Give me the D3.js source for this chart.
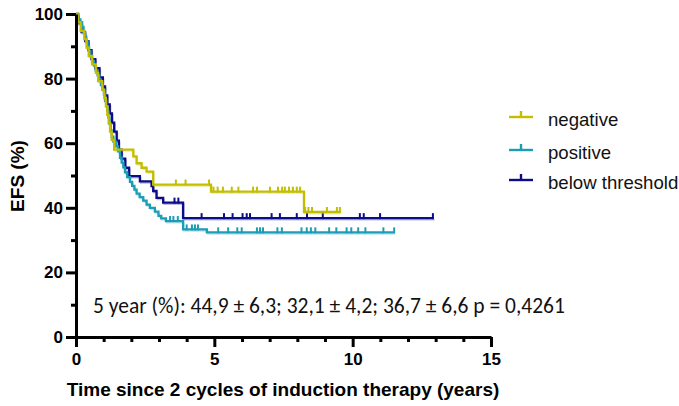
<!DOCTYPE html>
<html><head><meta charset="utf-8">
<script src="https://cdn.jsdelivr.net/npm/d3@7"></script>
<style>body{margin:0;background:#fff}svg{display:block}</style>
</head><body><svg id="c" width="679" height="406"></svg>
<script>
// ---------- data ----------
const xTickValues = [0, 5, 10, 15];
const xMinorTicks = [1,2,3,4,6,7,8,9,11,12,13,14];
const yTickValues = [0, 20, 40, 60, 80, 100];
const yMinorTicks = [10, 30, 50, 70, 90];
const seriesNames = ["negative", "positive", "below threshold"];
const seriesColors = ["#c4be00", "#1c9db6", "#0c0c86"];

const negTimes = [0.06,0.17,0.30,0.38,0.46,0.58,0.72,0.80,0.95,1.02,1.08,1.13,1.18,1.23,1.29,1.38,2.07,2.19,2.37,2.55,2.79,4.88,8.24];
const negSurv  = [97.4,94.8,92.2,89.6,87.0,84.4,81.8,79.2,76.6,74.0,71.4,68.8,66.2,63.6,61.0,58.0,55.9,53.8,52.4,51.2,47.2,45.0,38.7];
const negCensor = [3.61,3.96,4.81,4.97,5.12,5.31,5.63,5.87,6.40,6.54,7.01,7.30,7.45,7.55,7.70,7.84,7.98,8.10,8.28,8.40,8.53,9.07,9.43,9.54];
const negEnd = 9.54;

const posTimes = [0.05,0.10,0.16,0.22,0.27,0.32,0.37,0.42,0.47,0.52,0.58,0.65,0.71,0.78,0.84,0.90,0.96,1.01,1.05,1.09,1.13,1.17,1.21,1.25,1.29,1.35,1.45,1.52,1.59,1.65,1.71,1.77,1.85,1.95,2.03,2.11,2.19,2.30,2.43,2.55,2.67,2.85,2.98,3.08,3.25,3.87,4.73];
const posSurv  = [99.2,98.3,97.5,96.0,94.5,93.0,91.5,90.0,88.5,87.0,85.5,84.0,82.5,81.0,79.5,78.0,76.5,75.0,73.0,71.5,70.0,68.0,66.0,64.0,62.0,60.5,59.0,57.5,55.5,54.0,52.5,51.0,49.5,48.0,46.8,45.6,44.4,43.3,42.2,41.0,40.0,38.8,37.5,36.7,35.9,33.3,32.4];
const posCensor = [3.40,3.52,3.68,4.00,4.19,4.30,4.41,5.14,5.50,5.83,5.99,6.54,6.65,6.76,7.28,7.44,8.15,8.34,8.49,8.65,9.15,9.41,9.78,9.95,10.20,10.46,11.11,11.50];
const posEnd = 11.50;

const belTimes = [0.08,0.20,0.33,0.45,0.56,0.70,0.85,0.97,1.05,1.13,1.22,1.30,1.38,1.47,1.55,1.65,1.78,1.92,2.31,2.73,2.79,2.91,3.15,3.87];
const belSurv  = [97.2,94.4,91.6,88.8,86.0,83.2,80.4,77.6,74.8,72.0,69.2,66.4,63.6,60.8,58.0,55.2,52.4,49.8,48.2,46.7,45.2,43.1,41.6,36.8];
const belCensor = [3.56,3.70,4.54,5.35,5.66,6.02,6.17,6.29,7.07,7.37,7.98,8.35,8.92,10.26,10.40,10.99,12.90];
const belEnd = 12.93;

const xTitle = "Time since 2 cycles of induction therapy (years)";
const yTitle = "EFS (%)";
const annotation = "5 year (%): 44,9 \u00B1 6,3; 32,1 \u00B1 4,2; 36,7 \u00B1 6,6 p = 0,4261";

// ---------- chart ----------
const svg = d3.select("#c");
const x = d3.scaleLinear().domain([0, 15]).range([76, 491]);
const y = d3.scaleLinear().domain([0, 100]).range([337, 14]);

const series = [
  {name: seriesNames[2], color: seriesColors[2], t: belTimes, s: belSurv, c: belCensor, end: belEnd},
  {name: seriesNames[1], color: seriesColors[1], t: posTimes, s: posSurv, c: posCensor, end: posEnd},
  {name: seriesNames[0], color: seriesColors[0], t: negTimes, s: negSurv, c: negCensor, end: negEnd}
];

function survAt(sr, t) {
  const i = d3.bisectRight(sr.t, t);
  return i === 0 ? 100 : sr.s[i - 1];
}

const line = d3.line().x(d => x(d[0])).y(d => y(d[1])).curve(d3.curveStepAfter);

series.forEach(sr => {
  const pts = [[0, 100]];
  sr.t.forEach((t, i) => pts.push([t, sr.s[i]]));
  pts.push([sr.end, sr.s[sr.s.length - 1]]);
  const g = svg.append("g");
  g.append("path").attr("d", line(pts)).attr("fill", "none")
    .attr("stroke", sr.color).attr("stroke-opacity", 0.28).attr("stroke-width", 1.6)
    .attr("transform", "translate(0.8,1.6)");
  g.append("path").attr("d", line(pts)).attr("fill", "none")
    .attr("stroke", sr.color).attr("stroke-width", 2.3);
  g.selectAll("line.cen").data(sr.c).join("line").attr("class", "cen")
    .attr("x1", d => x(d)).attr("x2", d => x(d))
    .attr("y1", d => y(survAt(sr, d)) + 1).attr("y2", d => y(survAt(sr, d)) - 5)
    .attr("stroke", sr.color).attr("stroke-width", 2);
});

// axes
const axisFont = "'Liberation Sans', Arial, sans-serif";
svg.append("g").attr("transform", "translate(76,0)")
  .call(d3.axisLeft(y).tickValues(yTickValues).tickSize(10).tickSizeOuter(0).tickPadding(3));
const yMinor = svg.append("g").attr("transform", "translate(76,0)")
  .call(d3.axisLeft(y).tickValues(yMinorTicks).tickSize(5).tickFormat(""));
yMinor.select(".domain").remove();
svg.append("g").attr("transform", "translate(0,337)")
  .call(d3.axisBottom(x).tickValues(xTickValues).tickSize(10).tickSizeOuter(0).tickPadding(6));
const xMinor = svg.append("g").attr("transform", "translate(0,337)")
  .call(d3.axisBottom(x).tickValues(xMinorTicks).tickSize(5).tickFormat(""));
xMinor.select(".domain").remove();

svg.selectAll(".domain").attr("stroke", "#000").attr("stroke-width", 3);
svg.selectAll(".tick line").attr("stroke", "#000").attr("stroke-width", 3);
svg.selectAll(".tick text").attr("font-family", axisFont).attr("font-weight", "bold")
  .attr("font-size", 17).attr("fill", "#000");

// axis titles
svg.append("text").attr("x", 283).attr("y", 396).attr("text-anchor", "middle")
  .attr("font-family", axisFont).attr("font-weight", "bold").attr("font-size", 19)
  .text(xTitle);
svg.append("text").attr("transform", "translate(24,176) rotate(-90)").attr("text-anchor", "middle")
  .attr("font-family", axisFont).attr("font-weight", "bold").attr("font-size", 19)
  .text(yTitle);

// legend
const legY = [117, 150, 180];
const legOrder = [2, 1, 0];
legOrder.forEach((si, k) => {
  const sr = series[si];
  const g = svg.append("g");
  g.append("line").attr("x1", 509).attr("x2", 533).attr("y1", legY[k]).attr("y2", legY[k])
    .attr("stroke", sr.color).attr("stroke-width", 2.4);
  g.append("line").attr("x1", 521).attr("x2", 521).attr("y1", legY[k]).attr("y2", legY[k] - 6)
    .attr("stroke", sr.color).attr("stroke-width", 2.4);
  g.append("text").attr("x", 548).attr("y", legY[k] + 9)
    .attr("font-family", axisFont).attr("font-size", 18.6).attr("fill", "#111")
    .text(sr.name);
});

// annotation
const ann = svg.append("text").attr("x", 93).attr("y", 313)
  .attr("font-family", "Carlito, Lato, 'Open Sans', sans-serif").attr("font-size", 20).attr("fill", "#111")
  .text(annotation);
const w = ann.node().getComputedTextLength();
ann.attr("font-size", 20 * 472 / w);
</script>
</body></html>
